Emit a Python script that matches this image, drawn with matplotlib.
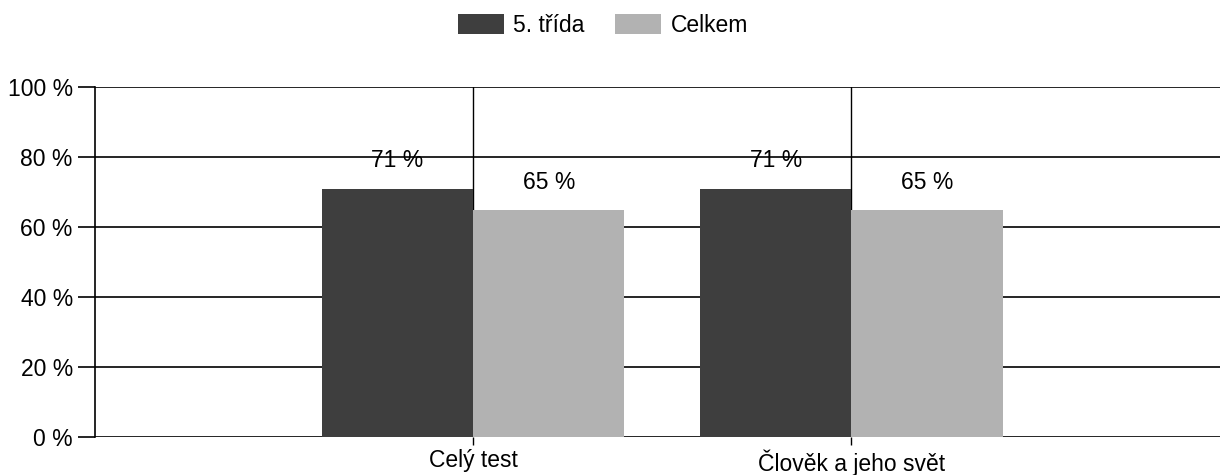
import matplotlib
matplotlib.use("Agg")
import matplotlib.pyplot as plt
from matplotlib.patches import Patch

categories = ["Celý test", "Člověk a jeho svět"]
series_names = ["5. třída", "Celkem"]
trida5 = [71, 71]
celkem = [65, 65]
yticks = [0, 20, 40, 60, 80, 100]
ytick_labels = ["0 %", "20 %", "40 %", "60 %", "80 %", "100 %"]

plt.rcParams['font.family'] = ['Liberation Sans', 'DejaVu Sans']
fig = plt.figure(figsize=(12.2, 4.75), dpi=100)
ax = fig.add_axes([95/1220, 1 - 437/475, 1 - 95/1220, 350/475])

dark = "#3e3e3e"
light = "#b2b2b2"
fs = 16.5
w = 0.40
x = list(range(len(categories)))
ax.bar([i - w/2 for i in x], trida5, width=w, color=dark, zorder=3)
ax.bar([i + w/2 for i in x], celkem, width=w, color=light, zorder=3)

for i in x:
    ax.text(i - w/2, trida5[i] + 8, f"{trida5[i]} %", ha="center", va="center", fontsize=fs, zorder=4)
    ax.text(i + w/2, celkem[i] + 7.6, f"{celkem[i]} %", ha="center", va="center", fontsize=fs, zorder=4)
    ax.axvline(i, color="black", lw=1, zorder=2)

ax.set_xlim(-1.0, 1.975)
ax.set_ylim(0, 100)
ax.set_yticks(yticks)
ax.set_yticklabels(ytick_labels, fontsize=fs)
ax.set_xticks(x)
ax.set_xticklabels(categories, fontsize=fs)
ax.yaxis.grid(True, color="black", lw=1.2, zorder=1)
for s in ["top", "right", "bottom"]:
    ax.spines[s].set_visible(False)
ax.spines["left"].set_linewidth(1.2)
ax.tick_params(axis="y", length=12, width=1.2, pad=4)
ax.tick_params(axis="x", length=6, width=1, pad=3)

handles = [Patch(facecolor=dark), Patch(facecolor=light)]
fig.legend(handles, series_names, loc="center", bbox_to_anchor=(603/1220, 1 - 25/475),
           ncol=2, frameon=False, fontsize=fs, handlelength=2.0, handleheight=0.95,
           columnspacing=1.35, handletextpad=0.4)

fig.savefig("out.png", dpi=100)
